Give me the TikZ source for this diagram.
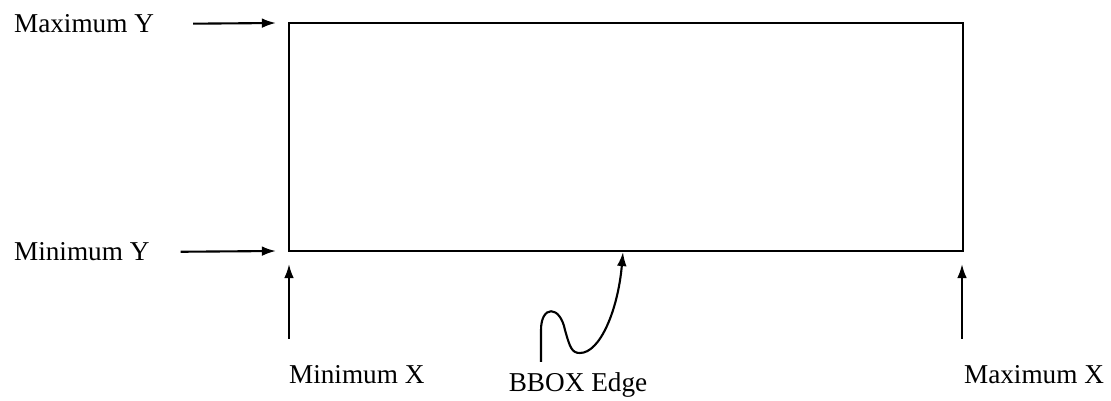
\documentclass[tikz,border=0pt]{standalone}
\usepackage{fontspec}
\setmainfont{Liberation Serif}
\usetikzlibrary{arrows.meta}
\tikzset{
  lbl/.style={font=\fontsize{15.5}{18}\selectfont,inner sep=0pt},
  pointer/.style={-{Latex[length=8pt,width=5.5pt]}}
}
\begin{document}
\begin{tikzpicture}[x=0.02cm,y=-0.02cm,line width=1.2pt]
\useasboundingbox (0,0) rectangle (1111,401);
\draw (289,23) coordinate (tl) rectangle (963,251) coordinate (br);

\node[lbl,anchor=west] (maxy) at (13,24) {Maximum Y};
\node[lbl,anchor=west] (miny) at (13,252) {Minimum Y};
\node[lbl,anchor=west] (minx) at (288,375) {Minimum X};
\node[lbl,anchor=west] (maxx) at (963,375) {Maximum X};
\node[lbl] (edge) at (578,385) {BBOX Edge};

\coordinate (maxytip) at (276,23);
\coordinate (minytip) at (276,251);
\coordinate (minxtip) at (289,264);
\coordinate (maxxtip) at (962,264);
\coordinate (edgetail) at (541,362);
\coordinate (edgehead) at (623,252);

\draw[pointer,shorten <=0.76cm] (maxy.east) -- (maxytip);
\draw[pointer,shorten <=0.6cm] (miny.east) -- (minytip);
\draw[pointer,shorten <=0.52cm] (minxtip |- minx.north) -- (minxtip);
\draw[pointer,shorten <=0.52cm] (maxxtip |- maxx.north) -- (maxxtip);
\draw[pointer] (edgetail) -- (541,330)
  .. controls (541,305) and (560,305) .. (565,330)
  .. controls (570,348) and (572,353) .. (580,353)
  .. controls (600,353) and (618,310) .. (edgehead);
\end{tikzpicture}
\end{document}
